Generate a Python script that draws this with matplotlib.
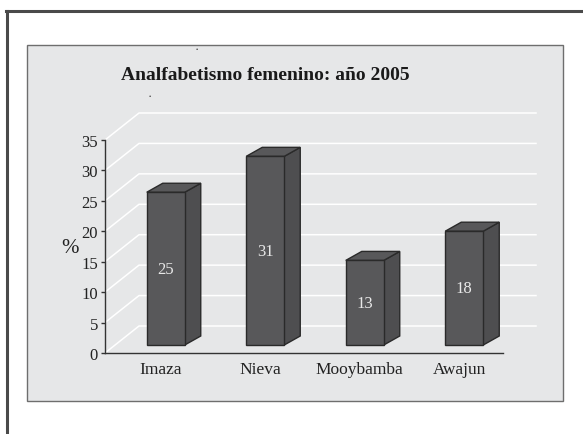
import matplotlib
matplotlib.use("Agg")
import matplotlib.pyplot as plt
from matplotlib.patches import Rectangle, Polygon
from matplotlib.lines import Line2D
import numpy as np

# data
categories = ["Imaza", "Nieva", "Mooybamba", "Awajun"]
values = [25.1, 31.0, 13.9, 18.7]
value_labels = ["25", "31", "13", "18"]
yticks = [0, 5, 10, 15, 20, 25, 30, 35]
title = "Analfabetismo femenino: año 2005"

W, H = 583, 435
fig = plt.figure(figsize=(W / 100, H / 100), dpi=100)
fig.patch.set_facecolor("white")
plt.rcParams["font.family"] = ["Liberation Serif", "DejaVu Serif"]


def fx(px):
    return px / W


def fy(py):
    return 1 - py / H


# outer frame (left and top only)
fig.add_artist(Line2D([fx(7), fx(7)], [fy(12), fy(435)], color="#4a4a4a", lw=2.2))
fig.add_artist(Line2D([fx(6), fx(583)], [fy(12), fy(12)], color="#4a4a4a", lw=2.2))

# gray panel (behind the axes)
fig.add_artist(Rectangle((fx(27), fy(402)), fx(563) - fx(27), fy(46) - fy(402),
                         facecolor="#e6e7e8", edgecolor="#6e6e6e", lw=1.0, zorder=-10))

# axes = front plane of the 3d box
x0, x1, y0, y1 = 105, 503, 354, 141
ax = fig.add_axes([fx(x0), fy(y0), fx(x1) - fx(x0), fy(y1) - fy(y0)])
ax.set_xlim(-0.5, 3.5)
ax.set_ylim(0, 35)
ax.patch.set_alpha(0)
for s in ["top", "right"]:
    ax.spines[s].set_visible(False)
ax.spines["left"].set_color("#333333")
ax.spines["bottom"].set_color("#333333")
ax.spines["left"].set_linewidth(1.0)
ax.spines["bottom"].set_linewidth(1.0)

# pixel -> data unit scale
ux = 4.0 / (x1 - x0)
uy = 35.0 / (y0 - y1)

# back wall offsets
wdx, wdy = 34 * ux, 27 * uy
wall_right = 3.5 + 33 * ux
for v in yticks:
    ax.plot([-0.5, -0.5 + wdx, wall_right], [v, v + wdy, v + wdy],
            color="white", lw=1.1, clip_on=False, zorder=1)

# bars
bdx, bdy = 16 * ux, 9 * uy   # bar depth
ox, oy = 11 * ux, 8 * uy     # shift of bars into the box
bw = 38 * ux
face = "#58585a"
side = "#4e4e50"
edge = "#2a2a2a"
for i, (v, lab) in enumerate(zip(values, value_labels)):
    xl = i + ox - bw / 2
    xr = xl + bw
    yb = oy
    yt = oy + v
    ax.add_patch(Polygon([[xr, yb], [xr + bdx, yb + bdy], [xr + bdx, yt + bdy], [xr, yt]],
                         closed=True, facecolor=side, edgecolor=edge, lw=1.0, clip_on=False, zorder=3))
    ax.add_patch(Polygon([[xl, yt], [xr, yt], [xr + bdx, yt + bdy], [xl + bdx, yt + bdy]],
                         closed=True, facecolor=face, edgecolor=edge, lw=1.0, clip_on=False, zorder=3))
    ax.add_patch(Rectangle((xl, yb), bw, v, facecolor=face, edgecolor=edge, lw=1.0,
                           clip_on=False, zorder=4))
    ax.text(i + ox, yb + v / 2, lab, ha="center", va="center", color="#e8e8e8",
            fontsize=12, zorder=5)

ax.set_yticks(yticks)
ax.set_yticklabels([str(t) for t in yticks], fontsize=12, color="#222222")
ax.tick_params(axis="y", length=3, width=1, color="#333333", pad=2)
ax.set_xticks(np.arange(len(categories)) + 0.06)
ax.set_xticklabels(categories, fontsize=12.5, color="#222222")
ax.tick_params(axis="x", length=0, pad=6)

fig.text(fx(70), fy(249), "%", fontsize=15, ha="center", va="center", color="#222222")
fig.text(fx(265), fy(75), title, fontsize=14, fontweight="bold", ha="center",
         va="center", color="#1a1a1a")
# small stray marks in the original
fig.text(fx(197), fy(50), "·", fontsize=9, ha="center", va="center", color="#333333")
fig.text(fx(150), fy(97), "·", fontsize=9, ha="center", va="center", color="#333333")

fig.savefig("out.png", dpi=100)
